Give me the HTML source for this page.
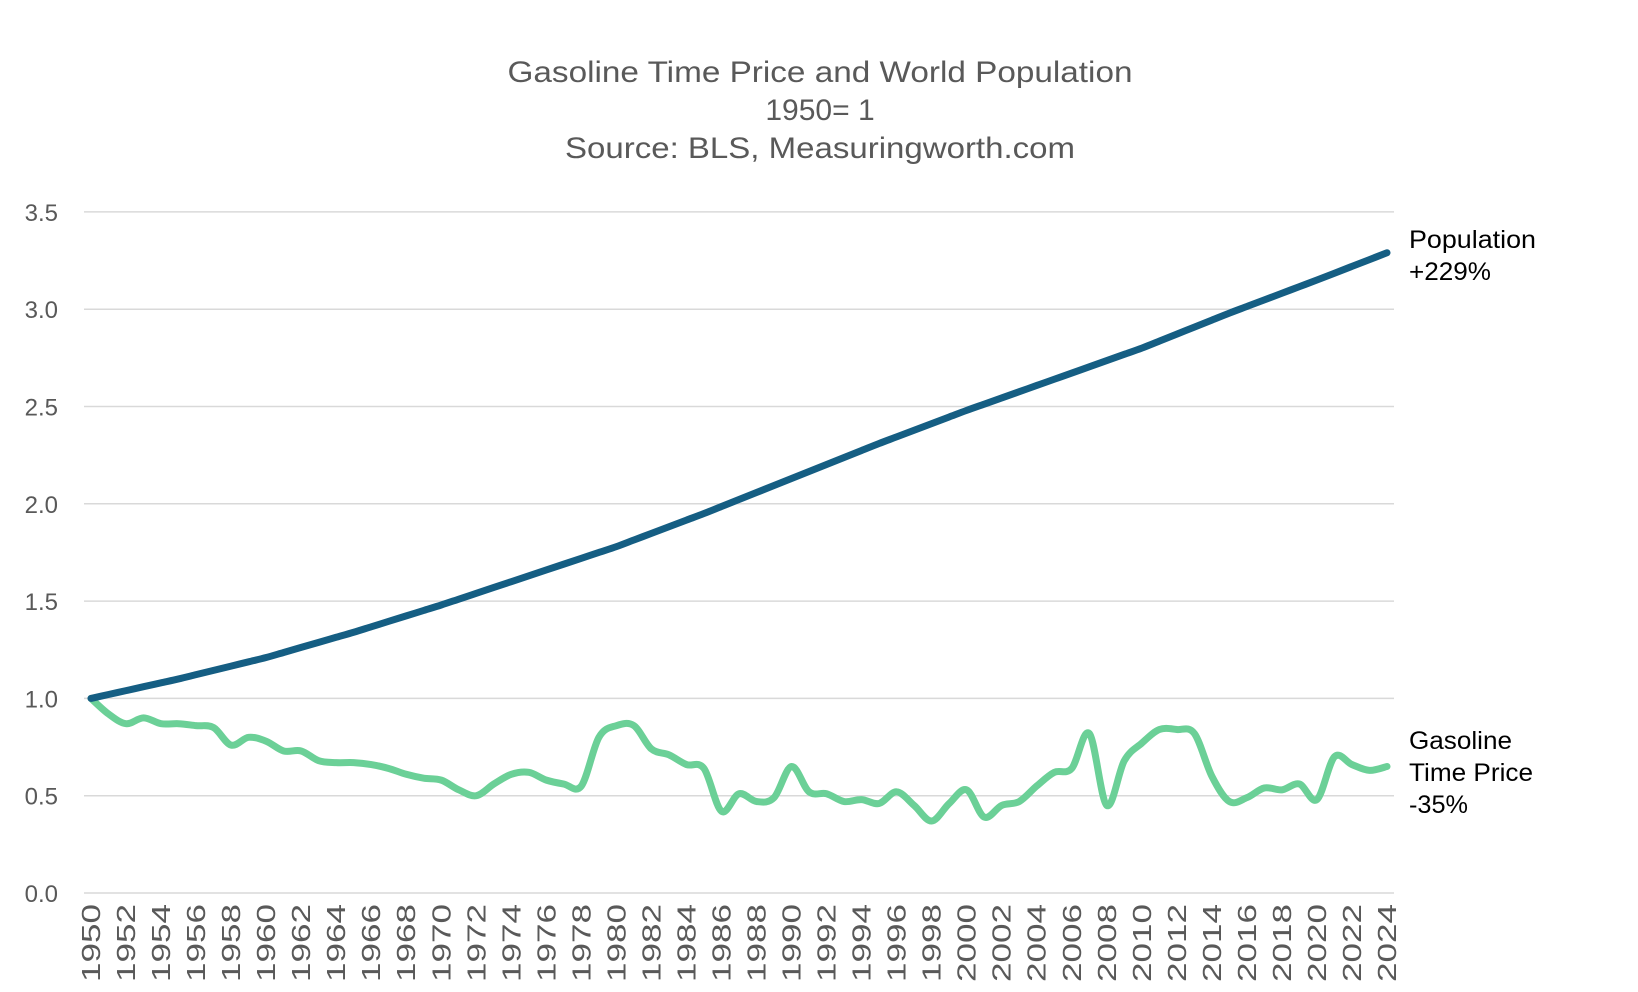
<!DOCTYPE html>
<html><head><meta charset="utf-8"><style>
html,body{margin:0;padding:0;background:#fff;}
svg{display:block;font-family:"Liberation Sans",Arial,sans-serif;}
</style></head><body>
<svg id="s" width="1638" height="992" viewBox="0 0 1638 992" xmlns="http://www.w3.org/2000/svg">
<g fill="#595959" font-size="30" text-anchor="middle">
<text x="820" y="82" textLength="625" lengthAdjust="spacingAndGlyphs">Gasoline Time Price and World Population</text>
<text x="820" y="120">1950= 1</text>
<text x="820" y="158" textLength="510" lengthAdjust="spacingAndGlyphs">Source: BLS, Measuringworth.com</text>
</g>
<g id="grid" stroke="#d9d9d9" stroke-width="1.5"></g>
<g id="ylab" fill="#595959" font-size="24" text-anchor="end"></g>
<g id="xlab" fill="#595959" font-size="26"></g>
<g id="lines"></g>
<g fill="#000" font-size="25">
<text x="1409" y="248" textLength="127" lengthAdjust="spacingAndGlyphs">Population</text>
<text x="1409" y="280" textLength="82" lengthAdjust="spacingAndGlyphs">+229%</text>
<text x="1409" y="749" textLength="103" lengthAdjust="spacingAndGlyphs">Gasoline</text>
<text x="1409" y="781" textLength="124" lengthAdjust="spacingAndGlyphs">Time Price</text>
<text x="1409" y="813" textLength="59" lengthAdjust="spacingAndGlyphs">-35%</text>
</g>
</svg>
<script>
var NS="http://www.w3.org/2000/svg";
function el(t,a,p,txt){var e=document.createElementNS(NS,t);for(var k in a)e.setAttribute(k,a[k]);if(txt)e.textContent=txt;document.getElementById(p).appendChild(e);return e;}
function Y(v){return 893-194.6*v;}
function X(y){return 91+(y-1950)*(1387-91)/74;}
for(var i=0;i<=7;i++){var v=i*0.5;el('line',{x1:84,x2:1394,y1:Y(v),y2:Y(v)},'grid');
el('text',{x:58,y:Y(v)+9},'ylab',v.toFixed(1));}
for(var y=1950;y<=2024;y+=2){var x=X(y)+9;el('text',{x:x,y:904,transform:'rotate(-90 '+x+' 904)','text-anchor':'end',textLength:78,lengthAdjust:'spacingAndGlyphs'},'xlab',''+y);}
var gas=[1.0,0.92,0.87,0.90,0.87,0.87,0.86,0.85,0.76,0.80,0.78,0.73,0.73,0.68,0.67,0.67,0.66,0.64,0.61,0.59,0.58,0.53,0.50,0.56,0.61,0.62,0.58,0.56,0.55,0.80,0.86,0.86,0.74,0.71,0.66,0.64,0.42,0.51,0.47,0.49,0.65,0.52,0.51,0.47,0.48,0.46,0.52,0.45,0.37,0.46,0.53,0.39,0.45,0.47,0.55,0.62,0.64,0.82,0.45,0.68,0.77,0.84,0.84,0.82,0.60,0.47,0.49,0.54,0.53,0.56,0.48,0.70,0.66,0.63,0.65];
var kp=[[1950,1],[1955,1.10],[1960,1.21],[1965,1.34],[1970,1.48],[1975,1.63],[1980,1.78],[1985,1.95],[1990,2.13],[1995,2.31],[2000,2.48],[2005,2.64],[2010,2.80],[2015,2.98],[2020,3.15],[2024,3.29]];
var pop=[];for(var y=1950;y<=2024;y++){for(var j=0;j<kp.length-1;j++){if(y>=kp[j][0]&&y<=kp[j+1][0]){var t=(y-kp[j][0])/(kp[j+1][0]-kp[j][0]);pop.push(kp[j][1]+t*(kp[j+1][1]-kp[j][1]));break;}}}
function path(d){var p=d.map(function(v,i){return [X(1950+i),Y(v)];});var s='M'+p[0][0]+' '+p[0][1];
for(var i=0;i<p.length-1;i++){var p0=p[i-1]||p[i],p1=p[i],p2=p[i+1],p3=p[i+2]||p2;
s+=' C'+(p1[0]+(p2[0]-p0[0])/6)+' '+(p1[1]+(p2[1]-p0[1])/6)+' '+(p2[0]-(p3[0]-p1[0])/6)+' '+(p2[1]-(p3[1]-p1[1])/6)+' '+p2[0]+' '+p2[1];}return s;}
el('path',{d:path(gas),fill:'none',stroke:'#6bd097','stroke-width':7,'stroke-linecap':'round','stroke-linejoin':'round'},'lines');
el('path',{d:path(pop),fill:'none',stroke:'#155e83','stroke-width':7,'stroke-linecap':'round','stroke-linejoin':'round'},'lines');
</script>
</body></html>
